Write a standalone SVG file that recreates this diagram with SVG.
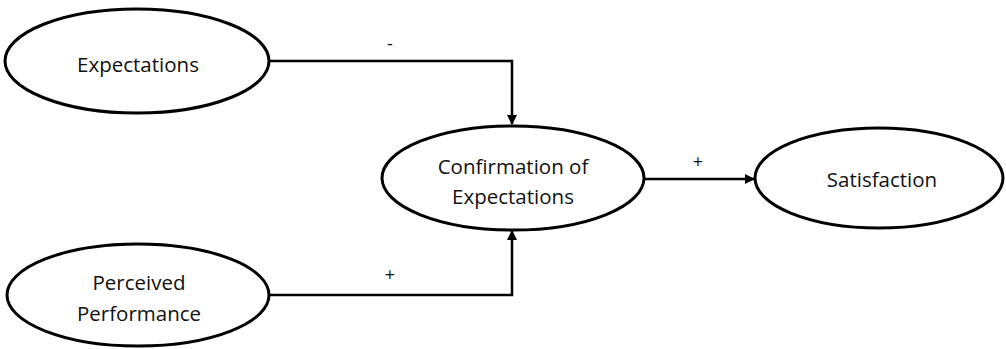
<svg xmlns="http://www.w3.org/2000/svg" width="1006" height="349" viewBox="0 0 1006 349">
  <style>
    .node ellipse { fill: #ffffff; stroke: #000000; stroke-width: 3; }
    .node text { font-family: "Open Sans", "Liberation Sans", sans-serif; font-size: 20.5px; fill: #111111; text-anchor: middle; }
    .edge { fill: none; stroke: #000000; stroke-width: 2.5; marker-end: url(#arrow); }
    .sign { font-family: "Open Sans", "Liberation Sans", sans-serif; font-size: 18px; fill: #111111; text-anchor: middle; }
  </style>
  <defs>
    <marker id="arrow" viewBox="0 0 10 10" refX="9" refY="5" markerWidth="4" markerHeight="4" markerUnits="strokeWidth" orient="auto">
      <path d="M0,0 L10,5 L0,10 z" fill="#000000"/>
    </marker>
  </defs>

  <!-- connectors with their sign labels -->
  <g id="connectors">
    <path class="edge" d="M269,61 H512 V124"/>
    <path class="edge" d="M269,295 H512 V231"/>
    <path class="edge" d="M645,179 H754"/>
    <text class="sign" x="390" y="50">-</text>
    <text class="sign" x="390" y="281">+</text>
    <text class="sign" x="698" y="168">+</text>
  </g>

  <g id="expectations" class="node">
    <ellipse cx="137" cy="61" rx="132" ry="52"/>
    <text x="138" y="71.5">Expectations</text>
  </g>

  <g id="perceived-performance" class="node">
    <ellipse cx="138" cy="295" rx="131" ry="51"/>
    <text x="139" y="290">Perceived</text>
    <text x="139" y="321">Performance</text>
  </g>

  <g id="confirmation" class="node">
    <ellipse cx="513" cy="178" rx="131" ry="52"/>
    <text x="513" y="174">Confirmation of</text>
    <text x="513" y="204">Expectations</text>
  </g>

  <g id="satisfaction" class="node">
    <ellipse cx="879" cy="178" rx="124" ry="50"/>
    <text x="882" y="187">Satisfaction</text>
  </g>
</svg>
